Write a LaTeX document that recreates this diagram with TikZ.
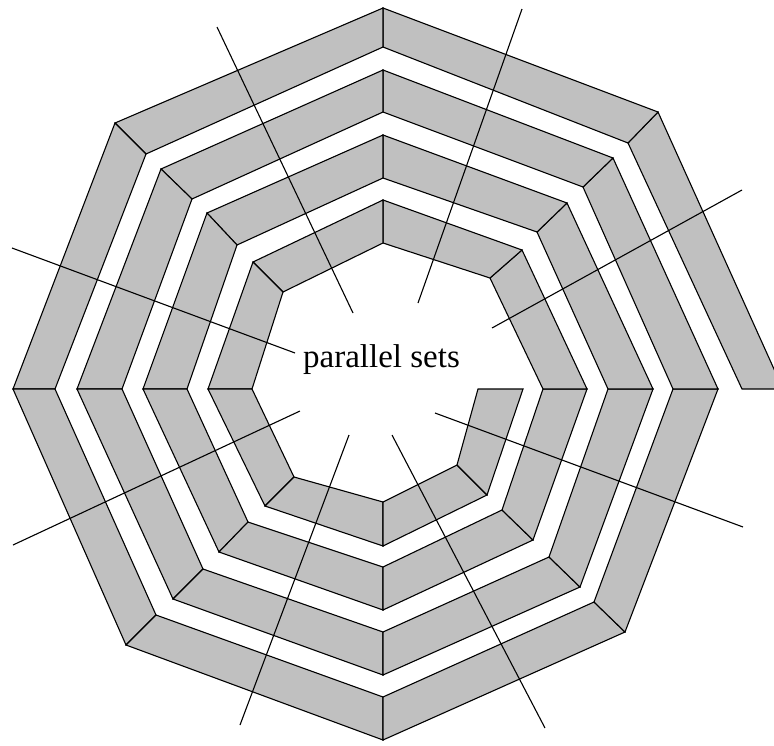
\documentclass[tikz,border=0pt]{standalone}
\usepackage{fontspec}
\setmainfont{Liberation Serif}
\definecolor{bandgray}{RGB}{192,192,192}
\begin{document}
\begin{tikzpicture}[x=1pt,y=-1pt,
  band/.style={fill=bandgray,draw=black,line width=1.1pt,line join=miter},
  ray/.style={draw=black,line width=1.1pt},
  lbl/.style={font=\fontsize{33}{40}\selectfont,inner sep=0pt,anchor=base}]
\useasboundingbox (0,0) rectangle (774,745);
\clip (0,0) rectangle (774,745);
% spiral vertices: outer (o) and inner (i) edges
\foreach \k/\ox/\oy/\ix/\iy in {
  0/783/389/742/389,
  1/658/112/628/143,
  2/383/8/383/47,
  3/115/123/146/154,
  4/13/389/55/389,
  5/126/645/156/615,
  6/383/740/383/697,
  7/625/632/594/602,
  8/718/389/673/389,
  9/613/158/583/187,
  10/383/70/383/112,
  11/161/169/192/199,
  12/77/389/122/389,
  13/173/599/203/569,
  14/383/675/383/632,
  15/580/587/549/557,
  16/653/389/608/389,
  17/567/203/537/232,
  18/383/135/383/178,
  19/207/213/237/245,
  20/143/389/187/389,
  21/219/552/248/522,
  22/383/610/383/567,
  23/533/540/502/510,
  24/587/389/543/389,
  25/522/250/490/278,
  26/383/200/383/243,
  27/253/262/283/292,
  28/208/389/252/389,
  29/265/506/294/477,
  30/383/546/383/502,
  31/487/495/457/465,
  32/523/389/478/389}{
  \coordinate (o\k) at (\ox,\oy);
  \coordinate (i\k) at (\ix,\iy);
}
\foreach \a [evaluate=\a as \b using int(\a+1)] in {0,...,31}{
  \path[band] (o\a) -- (o\b) -- (i\b) -- (i\a) -- cycle;
}
% radial lines
\foreach \n/\xa/\ya/\xb/\yb in {
  1/217/27/353/313,
  2/522/9/418/303,
  3/742/190/492/328,
  4/12/248/295/353,
  5/13/545/300/411,
  6/240/725/349/435,
  7/545/728/392/435,
  8/743/527/435/413}{
  \coordinate (ra\n) at (\xa,\ya);
  \coordinate (rb\n) at (\xb,\yb);
  \draw[ray] (ra\n) -- (rb\n);
}
\node[lbl] (label) at (381.5,367) {parallel sets};
\end{tikzpicture}
\end{document}
